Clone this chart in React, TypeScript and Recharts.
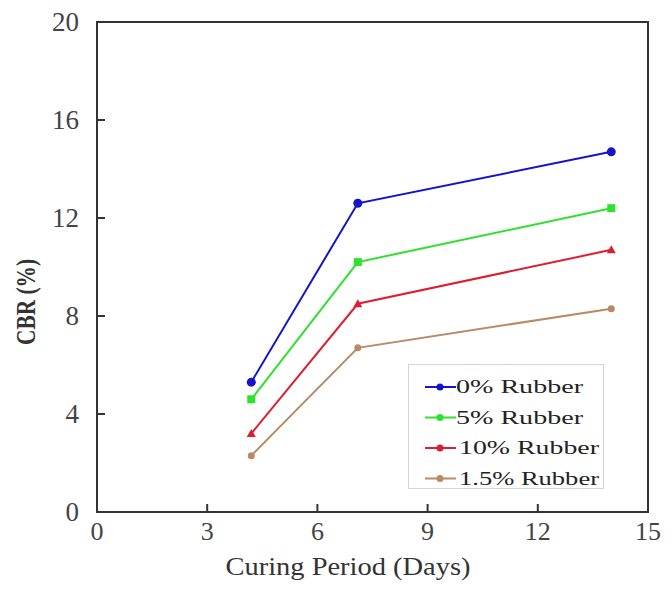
import React from 'react';
import { LineChart, Line, XAxis, YAxis, ReferenceArea, Legend } from 'recharts';

// curing period (days) shared by every series
const days = [4.2, 7.1, 14.0];

const rubber0 = [5.3, 12.6, 14.7];
const rubber5 = [4.6, 10.2, 12.4];
const rubber10 = [3.2, 8.5, 10.7];
const rubber15 = [2.3, 6.7, 8.3];

const xTicks = [0, 3, 6, 9, 12, 15];
const yTicks = [0, 4, 8, 12, 16, 20];

const seriesNames = ['0% Rubber', '5% Rubber', '10% Rubber', '1.5% Rubber'];

const data = days.map((d, i) => ({
    day: d,
    r0: rubber0[i],
    r5: rubber5[i],
    r10: rubber10[i],
    r15: rubber15[i]
}));

// layout
const PLOT_LEFT = 97;
const PLOT_BOTTOM = 512;
const FONT = '"Liberation Serif", "Times New Roman", serif';
const AXIS = '#333';

const series = [
    { key: 'r0', name: seriesNames[0], color: '#1414c8', shape: 'circle' },
    { key: 'r5', name: seriesNames[1], color: '#2fe02f', shape: 'square' },
    { key: 'r10', name: seriesNames[2], color: '#dc1e32', shape: 'triangle' },
    { key: 'r15', name: seriesNames[3], color: '#b98a66', shape: 'small' }
];

const Marker = ({ cx, cy, color, shape }: any) => {
    if (cx == null || cy == null) return null;
    if (shape === 'square') {
        return <rect x={cx - 4} y={cy - 4} width={8} height={8} fill={color} />;
    }
    if (shape === 'triangle') {
        return <polygon points={`${cx},${cy - 4.5} ${cx + 4.5},${cy + 3.5} ${cx - 4.5},${cy + 3.5}`} fill={color} />;
    }
    if (shape === 'small') {
        return <circle cx={cx} cy={cy} r={3.5} fill={color} />;
    }
    return <circle cx={cx} cy={cy} r={4.5} fill={color} />;
};

const XTick = ({ x, payload }: any) => (
    <g>
        {payload.value > 0 && payload.value < 15 && (
            <line x1={x} y1={PLOT_BOTTOM} x2={x} y2={PLOT_BOTTOM - 8} stroke={AXIS} strokeWidth={2} />
        )}
        <text x={x} y={540} textAnchor="middle" fontFamily={FONT} fontSize={26} fill="#444">
            {payload.value}
        </text>
    </g>
);

const YTick = ({ y, payload }: any) => (
    <g>
        {payload.value > 0 && payload.value < 20 && (
            <line x1={PLOT_LEFT} y1={y} x2={PLOT_LEFT + 8} y2={y} stroke={AXIS} strokeWidth={2} />
        )}
        <text x={79} y={y + 9} textAnchor="end" fontFamily={FONT} fontSize={27} fill="#444">
            {payload.value}
        </text>
    </g>
);

const renderLegend = () => (
    <div style={{
        position: 'absolute',
        left: 408,
        top: 364,
        width: 196,
        height: 125,
        border: '1px solid #d4d4d4',
        background: 'white',
        boxSizing: 'border-box'
    }}>
        <svg width={196} height={125}>
            {series.map((s, i) => {
                const y = 22 + i * 30.5;
                const len = i < 2 ? 127 : 140;
                return (
                    <g key={s.key}>
                        <line x1={16} y1={y} x2={47} y2={y} stroke={s.color} strokeWidth={2} />
                        <circle cx={31} cy={y} r={3.5} fill={s.color} />
                        <text
                            x={i < 2 ? 47 : 50}
                            y={y + 6}
                            fontFamily={FONT}
                            fontSize={18}
                            fill="#222"
                            textLength={len}
                            lengthAdjust="spacingAndGlyphs"
                        >
                            {s.name}
                        </text>
                    </g>
                );
            })}
        </svg>
    </div>
);

const App = () => {
    return (
        <div style={{ position: 'absolute', left: 0, top: 0, width: 672, height: 590, background: 'white' }}>
            <LineChart
                width={672}
                height={590}
                data={data}
                margin={{ top: 22, right: 24, bottom: 38, left: 0 }}
            >
                <ReferenceArea
                    x1={0}
                    x2={15}
                    y1={0}
                    y2={20}
                    fill="none"
                    stroke={AXIS}
                    strokeWidth={2}
                    ifOverflow="visible"
                />
                <XAxis
                    dataKey="day"
                    type="number"
                    domain={[0, 15]}
                    ticks={xTicks}
                    height={40}
                    tickLine={false}
                    axisLine={{ stroke: AXIS, strokeWidth: 2 }}
                    tick={<XTick />}
                    interval={0}
                    allowDataOverflow
                    label={{
                        content: () => (
                            <text
                                x={348}
                                y={575}
                                textAnchor="middle"
                                fontFamily={FONT}
                                fontSize={26}
                                fill="#333"
                                textLength={245}
                                lengthAdjust="spacingAndGlyphs"
                            >
                                Curing Period (Days)
                            </text>
                        )
                    }}
                />
                <YAxis
                    type="number"
                    domain={[0, 20]}
                    ticks={yTicks}
                    width={97}
                    tickLine={false}
                    axisLine={{ stroke: AXIS, strokeWidth: 2 }}
                    tick={<YTick />}
                    interval={0}
                    allowDataOverflow
                    label={{
                        content: () => (
                            <text
                                x={35}
                                y={302}
                                transform="rotate(-90 35 302)"
                                textAnchor="middle"
                                fontFamily={FONT}
                                fontSize={27}
                                fontWeight="bold"
                                fill="#333"
                                textLength={86}
                                lengthAdjust="spacingAndGlyphs"
                            >
                                CBR (%)
                            </text>
                        )
                    }}
                />
                {series.map((s) => (
                    <Line
                        key={s.key}
                        type="linear"
                        dataKey={s.key}
                        name={s.name}
                        stroke={s.color}
                        strokeWidth={2}
                        dot={(p: any) => <Marker key={`${s.key}-${p.index}`} cx={p.cx} cy={p.cy} color={s.color} shape={s.shape} />}
                        activeDot={false}
                        isAnimationActive={false}
                    />
                ))}
                <Legend content={renderLegend} wrapperStyle={{ position: 'absolute', left: 0, top: 0, width: 0, height: 0 }} />
            </LineChart>
        </div>
    );
};

export default App;
